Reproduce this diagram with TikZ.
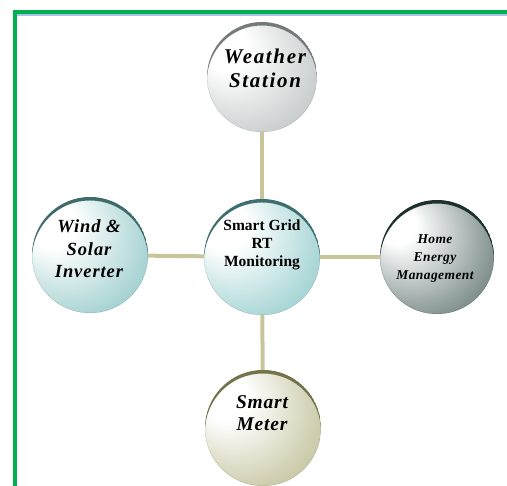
\documentclass[tikz,border=0pt]{standalone}
\usepackage{fontspec}
\setmainfont{Liberation Serif}
\usetikzlibrary{calc}
\definecolor{cw}{HTML}{9CA3A3}
\definecolor{cl}{HTML}{6AB3B3}
\definecolor{cc}{HTML}{6AB8B8}
\definecolor{ch}{HTML}{243F3B}
\definecolor{cm}{HTML}{A6A46C}
\definecolor{link}{HTML}{C9C59B}
\definecolor{frame}{HTML}{00B050}
\definecolor{frameb}{HTML}{A9C4E6}
\pgfdeclareradialshading{shw}{\pgfpoint{-20bp}{16bp}}{color(0bp)=(white); color(10bp)=(white); color(32bp)=(cw!50!white); color(54bp)=(cw)}
\pgfdeclareradialshading{shl}{\pgfpoint{-20bp}{16bp}}{color(0bp)=(white); color(10bp)=(white); color(32bp)=(cl!55!white); color(54bp)=(cl)}
\pgfdeclareradialshading{shc}{\pgfpoint{-20bp}{16bp}}{color(0bp)=(white); color(10bp)=(white); color(32bp)=(cc!55!white); color(54bp)=(cc)}
\pgfdeclareradialshading{shh}{\pgfpoint{-20bp}{16bp}}{color(0bp)=(white); color(8bp)=(white); color(30bp)=(ch!50!white); color(54bp)=(ch)}
\pgfdeclareradialshading{shm}{\pgfpoint{-20bp}{16bp}}{color(0bp)=(white); color(10bp)=(white); color(32bp)=(cm!55!white); color(54bp)=(cm)}
\tikzset{
  ball/.style={circle, inner sep=0pt, minimum size=#1},
  lbl/.style={align=center},
  conn/.style={draw=link, line width=4pt},
}
\newcommand{\rim}[3]{% center, radius, color
  \begin{scope}
    \clip (#1) circle[radius=#2];
    \fill[#3, even odd rule] (#1) circle[radius=#2] ($(#1)+(0,-3.5)$) circle[radius=#2];
  \end{scope}}
\begin{document}
\begin{tikzpicture}[x=1pt,y=1pt]
\useasboundingbox (0,0) rectangle (507,486);
% frame
\draw[frameb, line width=1.5pt] (16,471) -- (507,471);
\draw[frame, line width=4pt] (14.5,0) -- (14.5,474) -- (507,474);
% balls
\node[ball=110pt, shading=shw] (w) at (262,409) {};
\node[ball=116pt, shading=shc] (c) at (262,229) {};
\node[ball=116pt, shading=shl] (l) at (90,231) {};
\node[ball=114pt, shading=shh] (r) at (437,229) {};
\node[ball=116pt, shading=shm] (m) at (263,58) {};
\rim{w.center}{55}{cw!75!black}
\rim{c.center}{58}{cc!60!black}
\rim{l.center}{58}{cl!60!black}
\rim{r.center}{57}{ch!80!black}
\rim{m.center}{58}{cm!70!black}
% connectors
\draw[conn] (w) -- (c);
\draw[conn] (c) -- (m);
\draw[conn] (l) -- (c);
\draw[conn] (c) -- (r);
% labels
\node[lbl, font=\fontsize{21}{24}\selectfont\bfseries\itshape\addfontfeatures{LetterSpace=8}] (tw) at (265,418) {Weather\\Station};
\node[lbl, font=\fontsize{18.5}{22.5}\selectfont\bfseries\itshape\addfontfeatures{LetterSpace=5}] (tl) at (89,237) {Wind \&\\Solar\\Inverter};
\node[lbl, font=\fontsize{15.5}{18}\selectfont\bfseries] (tc) at (262,241) {Smart Grid\\RT\\Monitoring};
\node[lbl, font=\fontsize{13.5}{18}\selectfont\bfseries\itshape\addfontfeatures{LetterSpace=3}] (th) at (435,227) {Home\\Energy\\Management};
\node[lbl, font=\fontsize{19.5}{22}\selectfont\bfseries\itshape\addfontfeatures{LetterSpace=4}] (tm) at (262,73) {Smart\\Meter};
\end{tikzpicture}
\end{document}
